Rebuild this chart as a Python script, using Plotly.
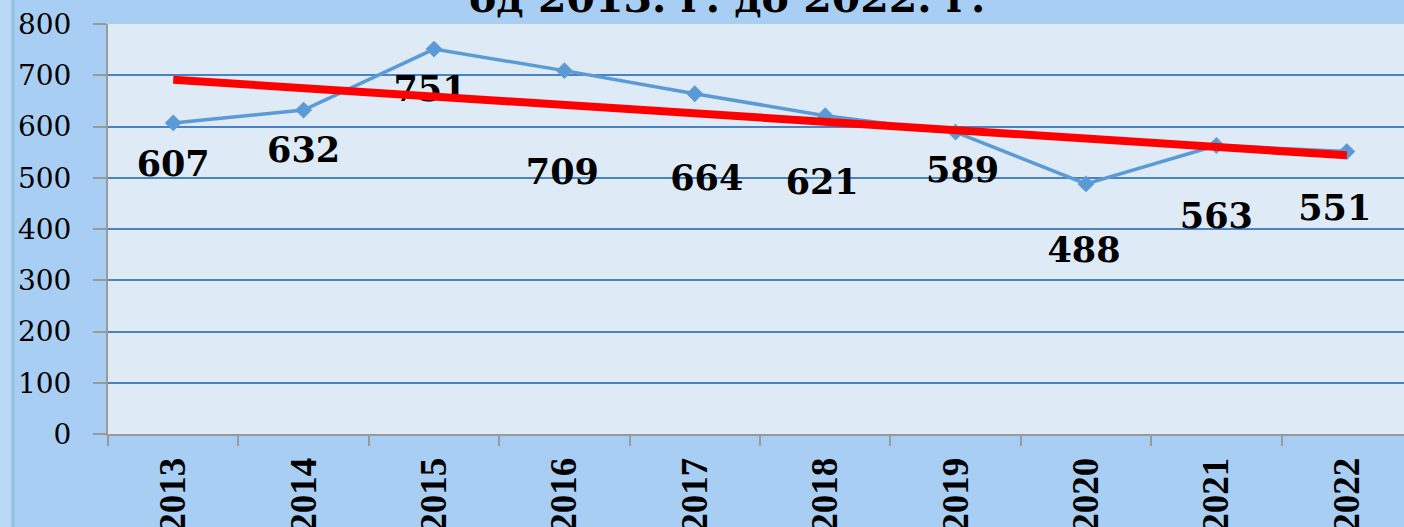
import numpy as np
import plotly.graph_objects as go

years = [2013, 2014, 2015, 2016, 2017, 2018, 2019, 2020, 2021, 2022]
values = [607, 632, 751, 709, 664, 621, 589, 488, 563, 551]
year_labels = [str(y) for y in years]
y_ticks = [0, 100, 200, 300, 400, 500, 600, 700, 800]
title_text = "од 2013. г. до 2022. г."

# label offsets (pixels: right, down) - style only
lab_dx_px = [0, 0, -4, -2, 12, -3, 7, -2, 0, -12]
lab_dy_px = [44, 43, 43, 105, 88, 70, 41, 69, 74, 60]

W, H = 1404, 527
ml, mt, mb, mr = 108, 24, 93, 0
plot_w = W - ml - mr
plot_h = H - mt - mb
px_per_year = 130.4
x0 = 2012.5
x1 = x0 + plot_w / px_per_year
px_per_unit = plot_h / 800.0

lab_x = [y + dx / px_per_year for y, dx in zip(years, lab_dx_px)]
lab_y = [v - dy / px_per_unit for v, dy in zip(values, lab_dy_px)]

slope, intercept = np.polyfit(years, values, 1)
trend = [slope * y + intercept for y in years]

fig = go.Figure()
fig.add_trace(go.Scatter(
    x=years, y=values, mode="lines+markers",
    line=dict(color="#5B9BD5", width=3.5),
    marker=dict(symbol="diamond", size=13, color="#5B9BD5"),
    showlegend=False, hoverinfo="skip"))
fig.add_trace(go.Scatter(
    x=lab_x, y=lab_y, mode="text", text=[str(v) for v in values],
    textfont=dict(family="DejaVu Serif", size=35, color="black", weight="bold"),
    textposition="middle center", showlegend=False, hoverinfo="skip"))
fig.add_trace(go.Scatter(
    x=[years[0], years[-1]], y=[trend[0], trend[-1]], mode="lines",
    line=dict(color="#FF0000", width=8),
    showlegend=False, hoverinfo="skip"))

fig.add_annotation(
    text=title_text, xref="paper", yref="paper", x=0.478, y=1.0,
    xanchor="center", yanchor="bottom", showarrow=False,
    font=dict(family="DejaVu Serif", size=41, color="black", weight="bold"))

# left light strip
fig.add_shape(type="rect", xref="paper", yref="paper",
              x0=-ml / plot_w, x1=(12 - ml) / plot_w, y0=-mb / plot_h, y1=1 + mt / plot_h,
              fillcolor="#B8D8F6", line=dict(width=0), layer="below")
fig.add_shape(type="line", xref="paper", yref="paper",
              x0=(13 - ml) / plot_w, x1=(13 - ml) / plot_w, y0=-mb / plot_h, y1=1 + mt / plot_h,
              line=dict(color="#94BCE4", width=3), layer="below")

fig.update_layout(
    width=W, height=H,
    margin=dict(l=ml, r=mr, t=mt, b=mb, autoexpand=False),
    paper_bgcolor="#A9CEF3",
    plot_bgcolor="#DEEAF6",
    xaxis=dict(
        range=[x0, x1], tickmode="array", tickvals=years, ticktext=year_labels,
        tickangle=-90, ticks="", showgrid=False, zeroline=False, automargin=False,
        showline=True, linecolor="#9A9A9A", linewidth=2,
        ticklabelstandoff=7,
        tickfont=dict(family="Liberation Serif", size=37, color="black", weight="bold"),
        minor=dict(tickvals=[x0 + k for k in range(11)], ticks="outside",
                   ticklen=10, tickcolor="#9A9A9A", tickwidth=2, showgrid=False),
    ),
    yaxis=dict(
        range=[0, 800], tickmode="array", tickvals=y_ticks, automargin=False,
        ticks="outside", ticklen=13, tickcolor="#9A9A9A", tickwidth=2,
        showgrid=True, gridcolor="#4A82C4", gridwidth=1.5,
        zeroline=False, showline=True, linecolor="#9A9A9A", linewidth=2,
        ticklabelstandoff=16,
        tickfont=dict(family="DejaVu Serif", size=28, color="black"),
    ),
)

post = ("document.body.style.margin='0';"
        "document.body.style.padding='0';"
        "document.body.style.overflow='hidden';"
        "document.documentElement.style.overflow='hidden';")

fig.write_html("out.html", post_script=post, config={"displayModeBar": False})
